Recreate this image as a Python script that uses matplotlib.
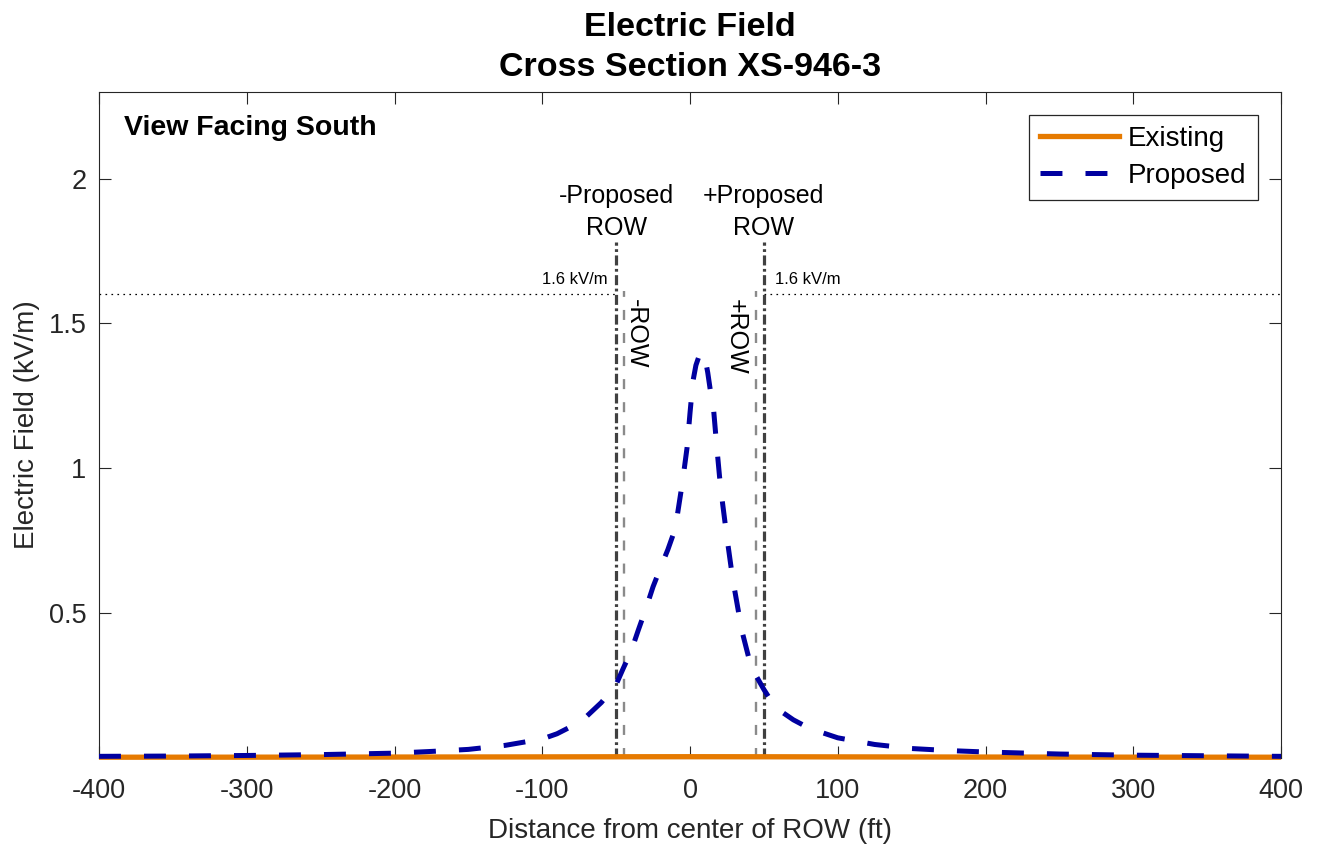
import matplotlib
matplotlib.use("Agg")
import matplotlib.pyplot as plt
from matplotlib.lines import Line2D

plt.rcParams['font.family'] = ['Liberation Sans', 'DejaVu Sans']
plt.rcParams['lines.scale_dashes'] = False

# Lateral distance from the center of the right-of-way (ft)
dist_existing = [-400, -300, -200, -100, -50, 0, 50, 100, 200, 300, 400]
field_existing = [0.001, 0.0012, 0.0016, 0.0022, 0.0026, 0.0028, 0.0026, 0.0022, 0.0016, 0.0012, 0.001]

dist_proposed = [-400, -350, -300, -250, -200, -175, -150, -125, -100, -90, -80,
                 -70, -60, -50, -45, -40, -35, -30, -25, -20, -15, -10, -5,
                 -2, 0, 2, 4, 6, 8, 10, 12, 14, 16, 18, 20, 22, 25, 28, 30, 35,
                 40, 45, 50, 55, 60, 70, 80, 90, 100, 125, 150, 175, 200, 250,
                 300, 350, 400]
field_proposed = [0.004, 0.005, 0.007, 0.010, 0.015, 0.021, 0.028, 0.042, 0.064, 0.082, 0.108,
                  0.142, 0.19, 0.252, 0.31, 0.365, 0.44, 0.512, 0.59, 0.655, 0.718, 0.79, 0.955,
                  1.07, 1.19, 1.30, 1.355, 1.385, 1.40, 1.385, 1.33, 1.26, 1.2, 1.08, 0.97, 0.88, 0.76, 0.65, 0.585, 0.44,
                  0.34, 0.28, 0.235, 0.195, 0.165, 0.13, 0.103, 0.085, 0.068, 0.045, 0.031, 0.024, 0.019, 0.012,
                  0.008, 0.006, 0.004]

row_edges = [-45, 45]
proposed_row_edges = [-50, 50]
limit_level = 1.6

x_ticks = [-400, -300, -200, -100, 0, 100, 200, 300, 400]
y_ticks = [0.5, 1, 1.5, 2]

AX_COLOR = '#262626'
ORANGE = '#E67A00'
BLUE = '#0000A0'
BLUE_DASH = (0, (15.8, 16.6))

fig = plt.figure(figsize=(13.17, 8.48), dpi=100)
ax = fig.add_axes([0.07517, 0.10672, 0.8975, 0.78514])

ax.set_xlim(-400, 400)
ax.set_ylim(0, 2.3)

# Field profiles
ax.plot(dist_existing, field_existing, color=ORANGE, lw=3.8, solid_capstyle='butt',
        clip_on=False, zorder=4, label='Existing')
ax.plot(dist_proposed, field_proposed, color=BLUE, lw=3.6, linestyle=BLUE_DASH,
        dash_capstyle='butt', clip_on=False, zorder=5, label='Proposed')

# Right-of-way markers
for xe in proposed_row_edges:
    ax.plot([xe, xe], [0, 1.78], color='#404040', lw=2.3,
            linestyle=(0, (7.2, 2.5, 2.0, 2.5)), zorder=3)
for xe in row_edges:
    ax.plot([xe, xe], [0, 1.61], color='#8a8a8a', lw=1.7,
            linestyle=(0, (7.2, 9.4)), zorder=3)

# 1.6 kV/m reference level outside the proposed ROW
ax.plot([-400, proposed_row_edges[0]], [limit_level, limit_level], color='black', lw=0.9,
        linestyle=(0, (1.2, 3.1)), zorder=2)
ax.plot([proposed_row_edges[1], 400], [limit_level, limit_level], color='black', lw=0.9,
        linestyle=(0, (1.2, 3.1)), zorder=2)
ax.text(-56, 1.634, '1.6 kV/m', fontsize=12, ha='right', va='baseline')
ax.text(57.5, 1.634, '1.6 kV/m', fontsize=12, ha='left', va='baseline')

# ROW labels
ax.text(-50, 1.917, '-Proposed', fontsize=18, ha='center', va='baseline')
ax.text(-50, 1.806, 'ROW', fontsize=18, ha='center', va='baseline')
ax.text(50, 1.917, '+Proposed', fontsize=18, ha='center', va='baseline')
ax.text(50, 1.806, 'ROW', fontsize=18, ha='center', va='baseline')
ax.text(-44.5, 1.585, '-ROW', fontsize=18, rotation=-90, ha='left', va='top')
ax.text(39.2, 1.585, '+ROW', fontsize=18, rotation=-90, ha='right', va='top')

ax.text(0.0212, 0.935, 'View Facing South', transform=ax.transAxes, fontsize=20.5,
        fontweight='bold', ha='left', va='baseline')

# Axes styling
ax.set_xticks(x_ticks)
ax.set_xticklabels([str(v) for v in x_ticks])
ax.set_yticks(y_ticks)
ax.set_yticklabels(['0.5', '1', '1.5', '2'])
ax.tick_params(direction='in', length=8.5, width=0.8, color=AX_COLOR, labelcolor=AX_COLOR,
               labelsize=19.5, top=True, right=True)
ax.tick_params(axis='x', pad=15)
ax.tick_params(axis='y', pad=9)
for sp in ax.spines.values():
    sp.set_color(AX_COLOR)
    sp.set_linewidth(0.8)

ax.set_xlabel('Distance from center of ROW (ft)', fontsize=20, color=AX_COLOR)
ax.set_ylabel('Electric Field (kV/m)', fontsize=20, color=AX_COLOR)
ax.xaxis.set_label_coords(0.5, -0.091)
ax.yaxis.set_label_coords(-0.0503, 0.5)

fig.text(0.5236, 1 - 35.5 / 848, 'Electric Field', fontsize=24.5, fontweight='bold',
         ha='center', va='baseline')
fig.text(0.5236, 1 - 76.5 / 848, 'Cross Section XS-946-3', fontsize=24.5, fontweight='bold',
         ha='center', va='baseline')

handles = [Line2D([], [], color=ORANGE, lw=3.8),
           Line2D([], [], color=BLUE, lw=3.6, linestyle=BLUE_DASH)]
leg = ax.legend(handles, ['Existing', 'Proposed'], loc='upper right',
                bbox_to_anchor=(0.9803, 0.965), borderaxespad=0, fontsize=20,
                frameon=True, fancybox=False, framealpha=1, edgecolor=AX_COLOR,
                borderpad=0.4, labelspacing=0.38, handlelength=2.85, handletextpad=0.32)
leg.get_frame().set_linewidth(0.9)

fig.savefig('out.png', dpi=100)
